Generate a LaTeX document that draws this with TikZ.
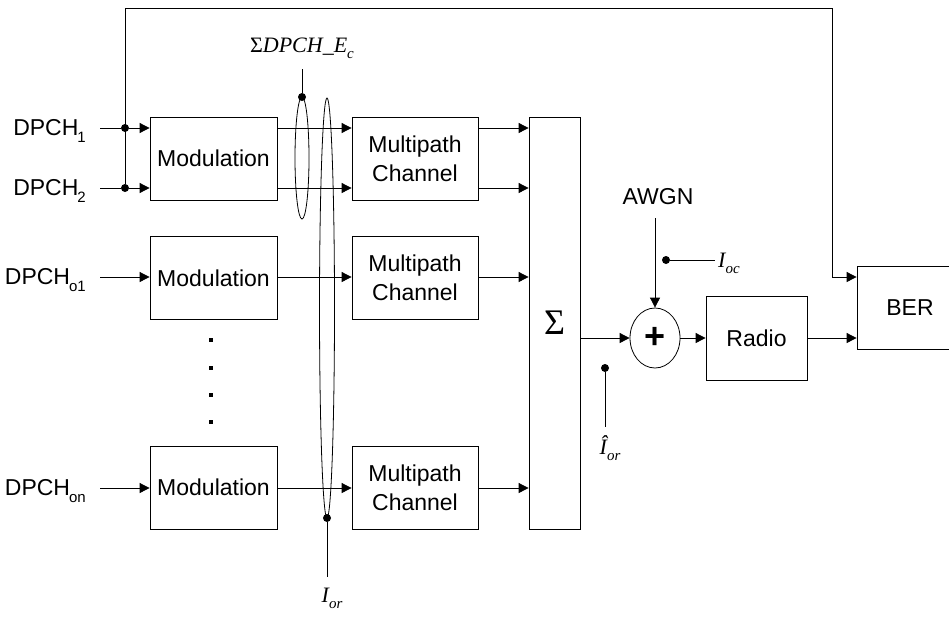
\documentclass[tikz,border=0pt]{standalone}
\usepackage{fontspec}
\setmainfont{Liberation Sans}
\newfontfamily\labelfont{Liberation Serif}
\usetikzlibrary{arrows.meta,shapes.geometric}
\newcommand\dpchsub[1]{\kern-1pt\raisebox{-7pt}[0pt][0pt]{\fontsize{15}{15}\selectfont #1}}
\newcommand\lsub[1]{\raisebox{-6pt}{\fontsize{15}{15}\selectfont #1}}

\begin{document}
\begin{tikzpicture}[x=1pt, y=-1pt,
    blk/.style={draw, line width=0.8pt, inner sep=0pt, align=center, font=\fontsize{23}{29}\selectfont},
    modbox/.style={blk, minimum width=127pt, minimum height=83pt},
    chanbox/.style={blk, minimum width=126pt, minimum height=83pt},
    inlabel/.style={anchor=east, inner xsep=14pt, inner ysep=2pt, font=\fontsize{23}{26}\selectfont},
    mlabel/.style={inner sep=2pt, font=\fontsize{22}{24}\selectfont\labelfont\itshape},
    wire/.style={line width=0.8pt},
    arr/.style={wire, -{Triangle[length=10pt,width=10pt]}},
    dot/.style={circle, fill, inner sep=0pt, minimum size=8pt},
    sq/.style={fill, inner sep=0pt, minimum size=4pt},
]
\useasboundingbox (0,0) rectangle (949,616);
\coordinate (r1) at (0,128);
\coordinate (r2) at (0,188);
\coordinate (r3) at (0,277);
\coordinate (r4) at (0,488);

\node[modbox] (mod1) at (213.5,158.5) {Modulation};
\node[modbox] (mod2) at (213.5,278) {Modulation};
\node[modbox] (mod3) at (213.5,487.5) {Modulation};
\node[chanbox] (ch1) at (415,158.5) {Multipath\\Channel};
\node[chanbox] (ch2) at (415,278) {Multipath\\Channel};
\node[chanbox] (ch3) at (415,487.5) {Multipath\\Channel};
\node[blk, minimum width=51pt, minimum height=412pt, font=\fontsize{36}{36}\selectfont\labelfont] (sigma) at (554.5,323) {Σ};
\node[blk, ellipse, minimum width=50pt, minimum height=60pt, font=\fontsize{36}{36}\selectfont\bfseries] (sum) at (655,338) {+};
\node[blk, minimum width=101pt, minimum height=84pt] (radio) at (756.5,338) {Radio};
\node[blk, minimum width=106pt, minimum height=83pt] (ber) at (910,307.5) {BER};

\node[inlabel] (in1) at (100,128) {DPCH\dpchsub{1}};
\node[inlabel] (in2) at (100,188) {DPCH\dpchsub{2}};
\node[inlabel] (in3) at (100,277) {DPCH\dpchsub{o1}};
\node[inlabel] (in4) at (100,488) {DPCH\dpchsub{on}};
\foreach \y in {340,368,395,422} \node[sq] at (211,\y) {};

% inputs and feedback to BER
\node[dot] (j1) at (125,128) {};
\node[dot] (j2) at (125,188) {};
\coordinate (tl) at (125,8);
\coordinate (tr) at (832,8);
\draw[wire] (in1.east) -- (j1);
\draw[wire] (in2.east) -- (j2);
\draw[arr] (j1) -- (mod1.west |- r1);
\draw[arr] (j2) -- (mod1.west |- r2);
\draw[arr] (in3.east) -- (mod2.west |- r3);
\draw[arr] (in4.east) -- (mod3.west |- r4);
\draw[arr] (j2) -- (tl) -- (tr) |- (ber.west |- r3);

\draw[arr] (mod1.east |- r1) -- (ch1.west |- r1);
\draw[arr] (mod1.east |- r2) -- (ch1.west |- r2);
\draw[arr] (mod2.east |- r3) -- (ch2.west |- r3);
\draw[arr] (mod3.east |- r4) -- (ch3.west |- r4);
\draw[arr] (ch1.east |- r1) -- (sigma.west |- r1);
\draw[arr] (ch1.east |- r2) -- (sigma.west |- r2);
\draw[arr] (ch2.east |- r3) -- (sigma.west |- r3);
\draw[arr] (ch3.east |- r4) -- (sigma.west |- r4);
\draw[arr] (sigma.east |- sum) -- (sum);
\draw[arr] (sum) -- (radio);
\draw[arr] (radio) -- (ber.west |- radio);

% power markers
\draw[wire] (302,158) ellipse [x radius=7pt, y radius=61pt];
\draw[wire] (327,308) ellipse [x radius=7.5pt, y radius=210pt];
\node[dot] (e1) at (302,97) {};
\coordinate (ect) at (302,69);
\node[mlabel] (ecl) at (302,48) {{\upshape Σ}DPCH\_E\lsub{c}};
\draw[wire] (e1) -- (ect);
\node[dot] (e2) at (327,518) {};
\coordinate (iort) at (327,577);
\node[mlabel] (iorl) at (332,598) {I\lsub{or}};
\draw[wire] (e2) -- (iort);
\node[dot] (h1) at (605,368) {};
\coordinate (hort) at (605,427);
\node[mlabel] (horl) at (610,448) {Î\lsub{or}};
\draw[wire] (h1) -- (hort);
\node[dot] (oc) at (666,260) {};
\coordinate (oce) at (715,260);
\node[mlabel, anchor=west] (ocl) at (716,263) {I\lsub{oc}};
\draw[wire] (oc) -- (oce);
\node[font=\fontsize{23}{26}\selectfont] (awgn) at (658,197) {AWGN};
\coordinate (awgnb) at (655,218);
\draw[arr] (awgnb) -- (sum);
\end{tikzpicture}
\end{document}
